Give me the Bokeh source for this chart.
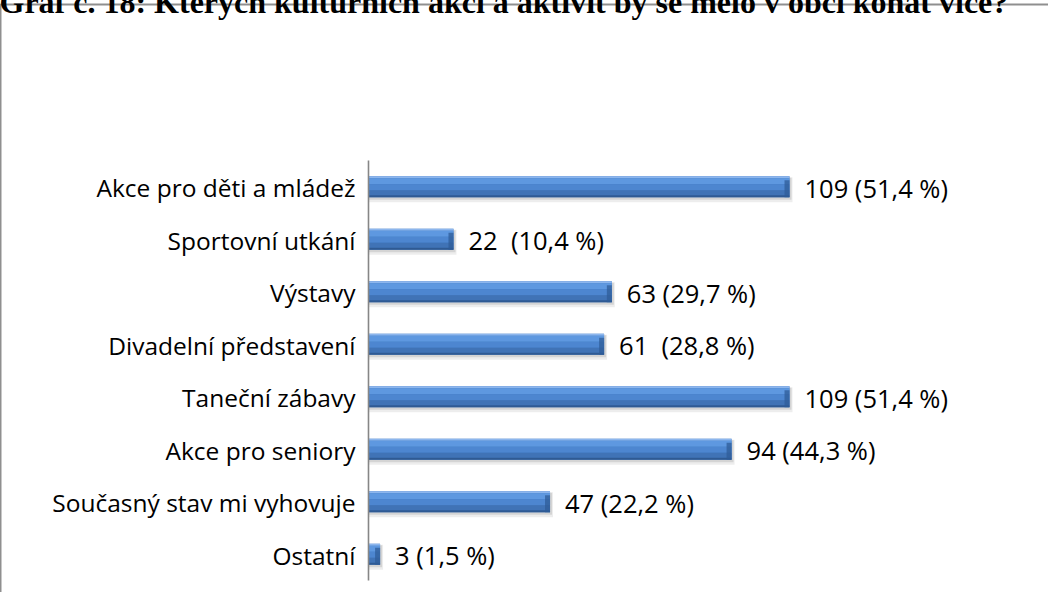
from bokeh.plotting import figure
from bokeh.models import Range1d
from bokeh.core.properties import value
from bokeh.embed import file_html
from bokeh.resources import INLINE

# ---------------- data ----------------
title_text = "Graf č. 18: Kterých kulturních akcí a aktivit by se mělo v obci konat více?"
categories = [
    "Akce pro děti a mládež",
    "Sportovní utkání",
    "Výstavy",
    "Divadelní představení",
    "Taneční zábavy",
    "Akce pro seniory",
    "Současný stav mi vyhovuje",
    "Ostatní",
]
counts = [109, 22, 63, 61, 109, 94, 47, 3]
percents = [51.4, 10.4, 29.7, 28.8, 51.4, 44.3, 22.2, 1.5]
label_gaps = [1, 2, 1, 2, 1, 1, 1, 1]   # spaces between count and percentage in the labels

# ---------------- layout constants (pixels, relative to figure origin) ----------------
W, H = 1056, 600
ZERO_PX = 376            # x pixel of value 0
PX_PER_UNIT = 421 / 109  # horizontal scale
AXIS_TOP_PX, AXIS_BOTTOM_PX = 168, 588
n = len(categories)
BAND = (AXIS_BOTTOM_PX - AXIS_TOP_PX) / n

x_start = -ZERO_PX / PX_PER_UNIT
x_end = (W - ZERO_PX) / PX_PER_UNIT
y_start = -(H - AXIS_BOTTOM_PX) / BAND
y_end = n + AXIS_TOP_PX / BAND


def px_x(px):
    return x_start + px / PX_PER_UNIT


def px_y(py):
    return y_end - py / BAND


p = figure(
    width=W, height=H,
    x_range=Range1d(x_start, x_end), y_range=Range1d(y_start, y_end),
    x_axis_location=None, y_axis_location=None,
    output_backend="svg", toolbar_location=None,
    min_border=0,
    styles={"margin": "-8px 0px 0px -8px"},
)
p.grid.visible = False
p.outline_line_color = None
p.background_fill_color = "white"
p.border_fill_color = "white"

ys = [n - 0.5 - i for i in range(n)]
BAR_PX = 21
bar_h = BAR_PX / BAND

# shadow
for dx, dy, extra, alpha in [(3, 3, 4, 0.07), (2, 2, 1, 0.10)]:
    p.hbar(
        y=[yv - dy / BAND for yv in ys], left=0,
        right=[c + dx / PX_PER_UNIT for c in counts],
        height=bar_h + extra / BAND,
        fill_color="#000000", fill_alpha=alpha, line_color=None,
    )

# gradient layers (px from bar top)
layers = [
    (0, 21, "#4077bd"),
    (0, 2, "#8cb6ee"),
    (2, 8, "#5e98e0"),
    (8, 14, "#4d86d0"),
    (14, 19, "#4073b6"),
    (19, 21, "#2f5a93"),
]
for a, b, col in layers:
    off = bar_h / 2 - (a + b) / 2 / BAND
    p.hbar(
        y=[yv + off for yv in ys], left=0, right=counts,
        height=(b - a) / BAND, fill_color=col, line_color=None,
    )

# right-end bevel
cap = 5 / PX_PER_UNIT
p.hbar(
    y=[yv - 2 / BAND for yv in ys],
    left=[max(0, c - cap) for c in counts], right=counts,
    height=(BAR_PX - 4) / BAND, fill_color="#2f5c98", fill_alpha=0.75, line_color=None,
)

# axis line
p.segment(x0=[0], y0=[0], x1=[0], y1=[n], line_color="#868686", line_width=1.6)

# category labels
p.text(
    x=0, y=ys, text=categories, x_offset=-13, y_offset=1,
    text_align="right", text_baseline="middle",
    text_font=value("Open Sans"), text_font_size="24.5px", text_color="#000000",
)

# value labels
labels = [
    f"{c}{chr(160) * (g - 1)} ({pct:.1f} %)".replace(".", ",")
    for c, pct, g in zip(counts, percents, label_gaps)
]
p.text(
    x=counts, y=ys, text=labels, x_offset=15, y_offset=1,
    text_align="left", text_baseline="middle",
    text_font=value("Open Sans"), text_font_size="25.5px", text_color="#000000",
)

# chart box (top and left border)
p.line(
    x=[px_x(8), px_x(8), px_x(W)], y=[px_y(H), px_y(12), px_y(12)],
    line_color="#8f8f8f", line_width=2,
)

# title (clipped at top like the reference)
p.text(
    x=[px_x(7)], y=[px_y(9)], text=[title_text],
    text_align="left", text_baseline="alphabetic",
    text_font=value("Liberation Serif"), text_font_style="bold",
    text_font_size="32px", text_color="#000000",
)

open("out.html", "w").write(file_html(p, INLINE))
